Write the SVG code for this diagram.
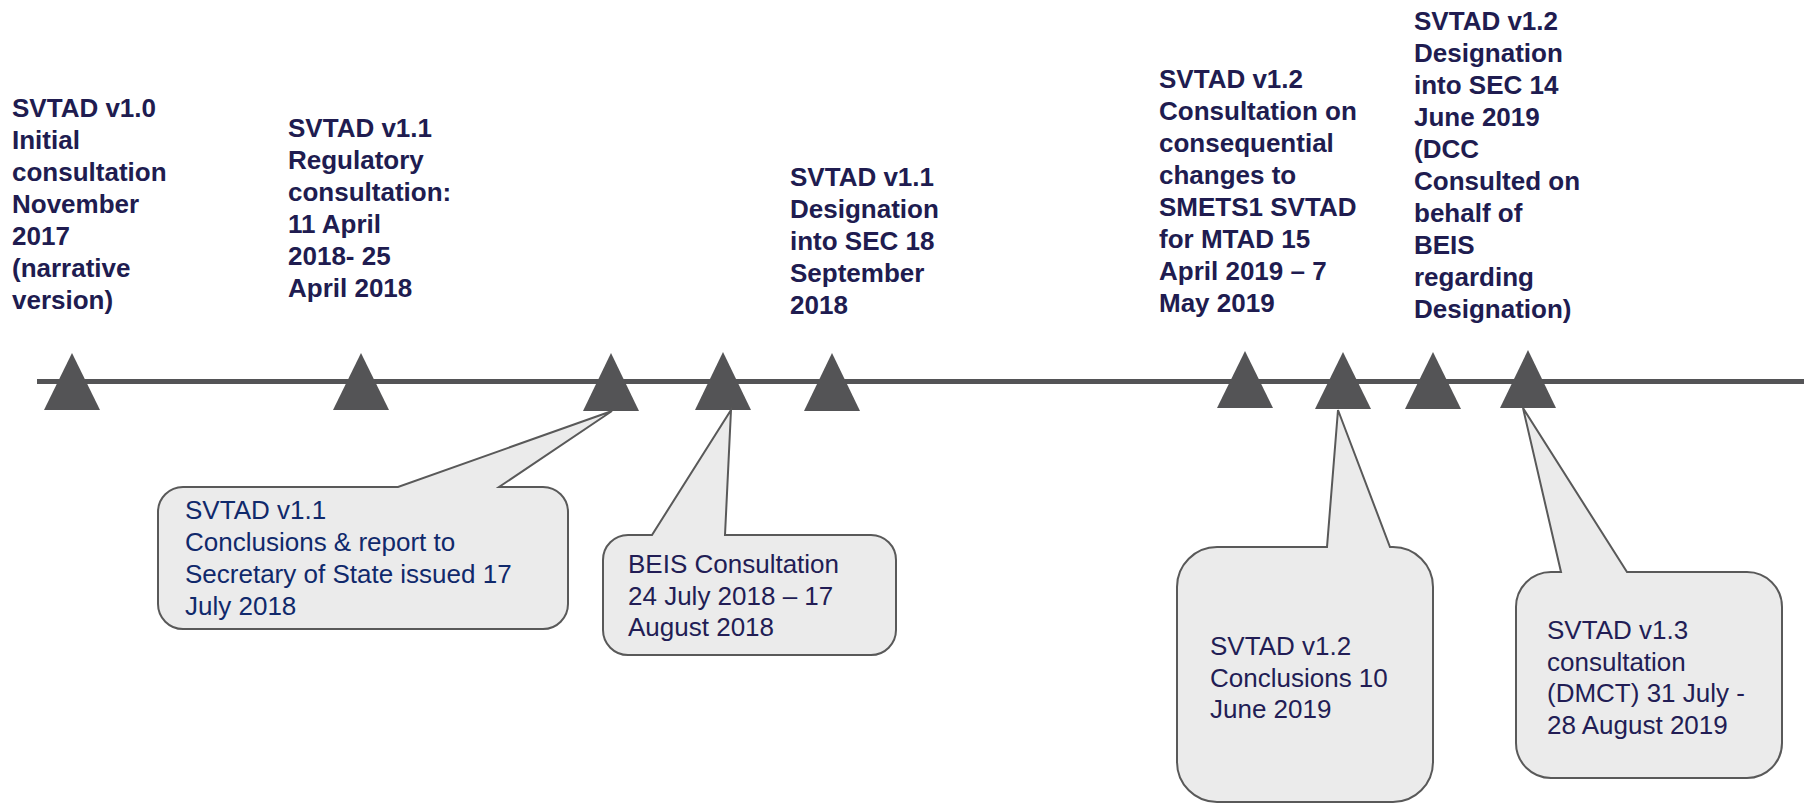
<svg xmlns="http://www.w3.org/2000/svg" width="1810" height="804" viewBox="0 0 1810 804">
<style>
.title{font-family:"Liberation Sans",Arial,sans-serif;font-weight:bold;font-size:26px;fill:#201c50}
.note{font-family:"Liberation Sans",Arial,sans-serif;font-size:26px;fill:#221d55}
.note1{fill:#10296b}
.bubble{fill:#ebebeb;stroke:#595959;stroke-width:2;stroke-linejoin:miter}
.tri{fill:#545456}
.axis{stroke:#545456;stroke-width:5}
</style>
<rect width="1810" height="804" fill="#ffffff"/>
<g id="connectors">
<line class="axis" x1="37" y1="381.5" x2="1804" y2="381.5"/>
</g>
<g id="markers">
<polygon class="tri" points="72,353 44,410 100,410"/>
<polygon class="tri" points="361,353 333,410 389,410"/>
<polygon class="tri" points="611,353 583,411 639,411"/>
<polygon class="tri" points="723,352 695,410 751,410"/>
<polygon class="tri" points="832,353 804,411 860,411"/>
<polygon class="tri" points="1245,351 1217,408 1273,408"/>
<polygon class="tri" points="1343,352 1315,409 1371,409"/>
<polygon class="tri" points="1433,352 1405,409 1461,409"/>
<polygon class="tri" points="1528,350 1500,408 1556,408"/>
</g>
<g id="label-v10">
<text class="title" x="12" y="117">SVTAD v1.0<tspan x="12" dy="32">Initial</tspan><tspan x="12" dy="32">consultation</tspan><tspan x="12" dy="32">November</tspan><tspan x="12" dy="32">2017</tspan><tspan x="12" dy="32">(narrative</tspan><tspan x="12" dy="32">version)</tspan></text>
</g>
<g id="label-v11-reg">
<text class="title" x="288" y="137">SVTAD v1.1<tspan x="288" dy="32">Regulatory</tspan><tspan x="288" dy="32">consultation:</tspan><tspan x="288" dy="32">11 April</tspan><tspan x="288" dy="32">2018- 25</tspan><tspan x="288" dy="32">April 2018</tspan></text>
</g>
<g id="label-v11-des">
<text class="title" x="790" y="186">SVTAD v1.1<tspan x="790" dy="32">Designation</tspan><tspan x="790" dy="32">into SEC 18</tspan><tspan x="790" dy="32">September</tspan><tspan x="790" dy="32">2018</tspan></text>
</g>
<g id="label-v12-cons">
<text class="title" x="1159" y="88">SVTAD v1.2<tspan x="1159" dy="32">Consultation on</tspan><tspan x="1159" dy="32">consequential</tspan><tspan x="1159" dy="32">changes to</tspan><tspan x="1159" dy="32">SMETS1 SVTAD</tspan><tspan x="1159" dy="32">for MTAD 15</tspan><tspan x="1159" dy="32">April 2019 – 7</tspan><tspan x="1159" dy="32">May 2019</tspan></text>
</g>
<g id="label-v12-des">
<text class="title" x="1414" y="30">SVTAD v1.2<tspan x="1414" dy="32">Designation</tspan><tspan x="1414" dy="32">into SEC 14</tspan><tspan x="1414" dy="32">June 2019</tspan><tspan x="1414" dy="32">(DCC</tspan><tspan x="1414" dy="32">Consulted on</tspan><tspan x="1414" dy="32">behalf of</tspan><tspan x="1414" dy="32">BEIS</tspan><tspan x="1414" dy="32">regarding</tspan><tspan x="1414" dy="32">Designation)</tspan></text>
</g>
<g id="callout-v11-conclusions">
<path class="bubble" d="M183 487 H398 L612 411 L499 487 H543 A25 25 0 0 1 568 512 V604 A25 25 0 0 1 543 629 H183 A25 25 0 0 1 158 604 V512 A25 25 0 0 1 183 487 Z"/>
<text class="note note1" x="185" y="519">SVTAD v1.1<tspan x="185" dy="32">Conclusions &amp; report to</tspan><tspan x="185" dy="32">Secretary of State issued 17</tspan><tspan x="185" dy="32">July 2018</tspan></text>
</g>
<g id="callout-beis">
<path class="bubble" d="M628 535 H652 L731 410 L725 535 H871 A25 25 0 0 1 896 560 V630 A25 25 0 0 1 871 655 H628 A25 25 0 0 1 603 630 V560 A25 25 0 0 1 628 535 Z"/>
<text class="note" x="628" y="573">BEIS Consultation<tspan x="628" dy="31.5">24 July 2018 – 17</tspan><tspan x="628" dy="31.5">August 2018</tspan></text>
</g>
<g id="callout-v12-conclusions">
<path class="bubble" d="M1217 547 H1327 L1338 410 L1390 547 H1393 A40 40 0 0 1 1433 587 V762 A40 40 0 0 1 1393 802 H1217 A40 40 0 0 1 1177 762 V587 A40 40 0 0 1 1217 547 Z"/>
<text class="note" x="1210" y="655">SVTAD v1.2<tspan x="1210" dy="31.5">Conclusions 10</tspan><tspan x="1210" dy="31.5">June 2019</tspan></text>
</g>
<g id="callout-v13">
<path class="bubble" d="M1551 572 H1561 L1523 408 L1627 572 H1747 A35 35 0 0 1 1782 607 V743 A35 35 0 0 1 1747 778 H1551 A35 35 0 0 1 1516 743 V607 A35 35 0 0 1 1551 572 Z"/>
<text class="note" x="1547" y="639">SVTAD v1.3<tspan x="1547" dy="31.5">consultation</tspan><tspan x="1547" dy="31.5">(DMCT) 31 July -</tspan><tspan x="1547" dy="31.5">28 August 2019</tspan></text>
</g>
</svg>
